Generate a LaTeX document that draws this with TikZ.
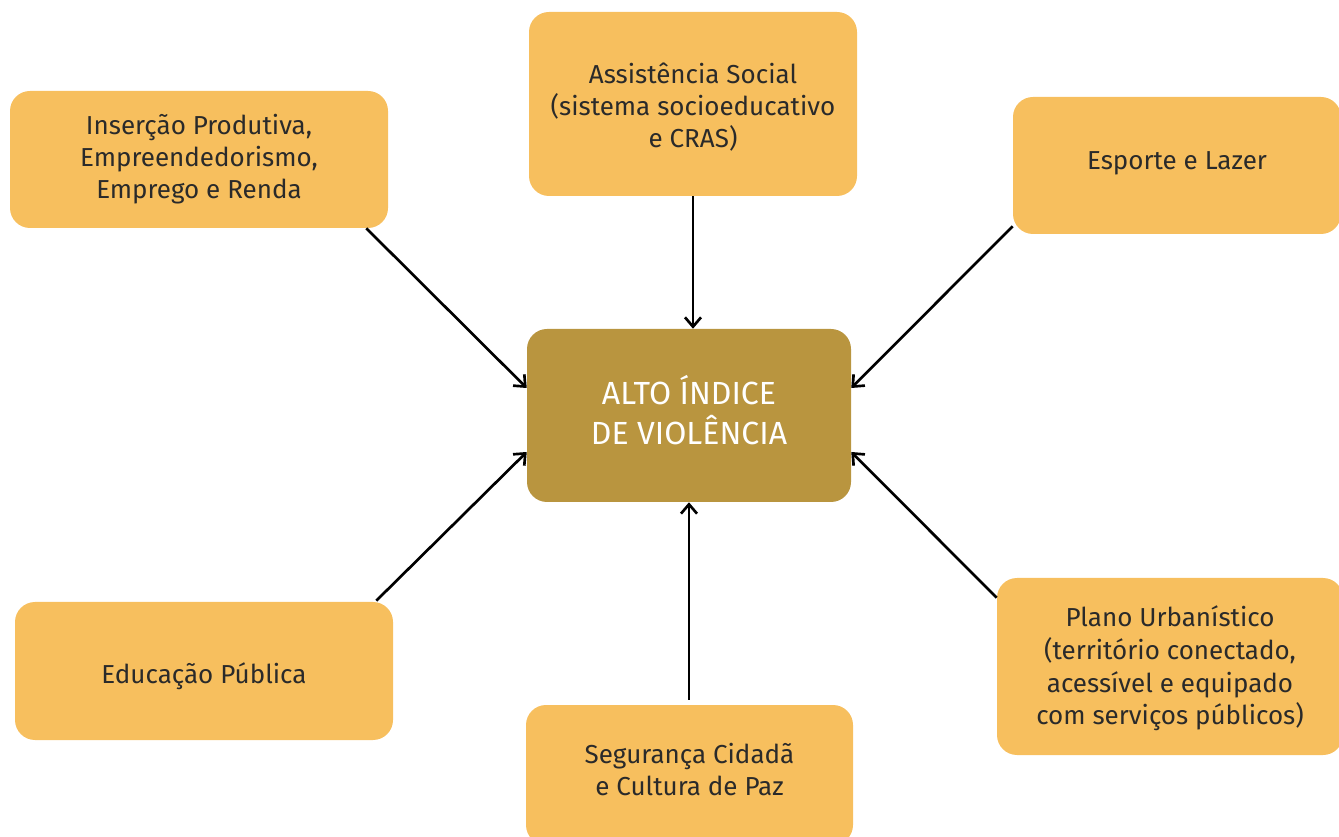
\documentclass[tikz,border=0pt]{standalone}
\usepackage{fontspec}
\setmainfont{Fira Sans}
\usetikzlibrary{arrows.meta,calc}
\definecolor{boxc}{HTML}{F7BF5E}
\definecolor{centc}{HTML}{B9953F}
\definecolor{txt}{HTML}{2A2A2A}
\newcommand{\shiftv}[2]{\raisebox{#1}[\height][\depth]{#2}}
\begin{document}
\begin{tikzpicture}[x=0.75pt,y=-0.75pt,
  side/.style={fill=boxc,rounded corners=15pt,inner sep=0pt,align=center,text=txt,
    font=\fontsize{19.5}{24}\selectfont},
  cent/.style={fill=centc,rounded corners=15pt,inner sep=0pt,align=center,text=white,
    font=\fontsize{24}{28}\selectfont},
  arr/.style={line width=2pt,-{Straight Barb[length=7pt,width=12pt,line width=2pt]}}]
\useasboundingbox (0,0) rectangle (1339,837);
\node[side,minimum width=378*0.75pt,minimum height=137*0.75pt] (tl) at (199,159.5)
  {Inserção Produtiva,\\Empreendedorismo,\\Emprego e Renda};
\node[side,minimum width=328*0.75pt,minimum height=184*0.75pt] (tc) at (693,104)
  {\shiftv{-3.75pt}{\begin{tabular}{@{}c@{}}Assistência Social\\(sistema socioeducativo\\e CRAS)\end{tabular}}};
\node[side,minimum width=328*0.75pt,minimum height=137*0.75pt] (tr) at (1177,165.5)
  {\shiftv{1.5pt}{Esporte e Lazer}};
\node[cent,minimum width=324*0.75pt,minimum height=173*0.75pt] (c) at (689,415.5)
  {\begin{tabular}{@{}c@{}}ALTO ÍNDICE\\DE VIOLÊNCIA\end{tabular}};
\node[side,minimum width=378*0.75pt,minimum height=138*0.75pt] (bl) at (204,671)
  {\shiftv{-3.75pt}{Educação Pública}};
\node[side,minimum width=327*0.75pt,minimum height=140*0.75pt] (bc) at (689.5,775)
  {\shiftv{1.5pt}{\begin{tabular}{@{}c@{}}Segurança Cidadã\\e Cultura de Paz\end{tabular}}};
\node[side,minimum width=346*0.75pt,minimum height=177*0.75pt,
  font=\fontsize{19.5}{24.5}\selectfont] (br) at (1170,666.5)
  {\shiftv{-2pt}{\begin{tabular}{@{}c@{}}Plano Urbanístico\\(território conectado,\\acessível e equipado\\com serviços públicos)\end{tabular}}};
\draw[arr] ($(tl.south east)+(-22,0)$) -- ($(c.west)+(0,-27.5)$);
\draw[arr] (tc.south) -- (tc.south |- c.north);
\draw[arr] ($(tr.south west)+(0,-8)$) -- ($(c.east)+(0,-27.5)$);
\draw[arr] ($(bl.north east)+(-17,-1)$) -- ($(c.west)+(0,36.5)$);
\draw[arr] ($(c.south |- bc.north)+(0,-5)$) -- (c.south);
\draw[arr] ($(br.north west)+(0,20)$) -- ($(c.east)+(0,36.5)$);
\end{tikzpicture}
\end{document}
